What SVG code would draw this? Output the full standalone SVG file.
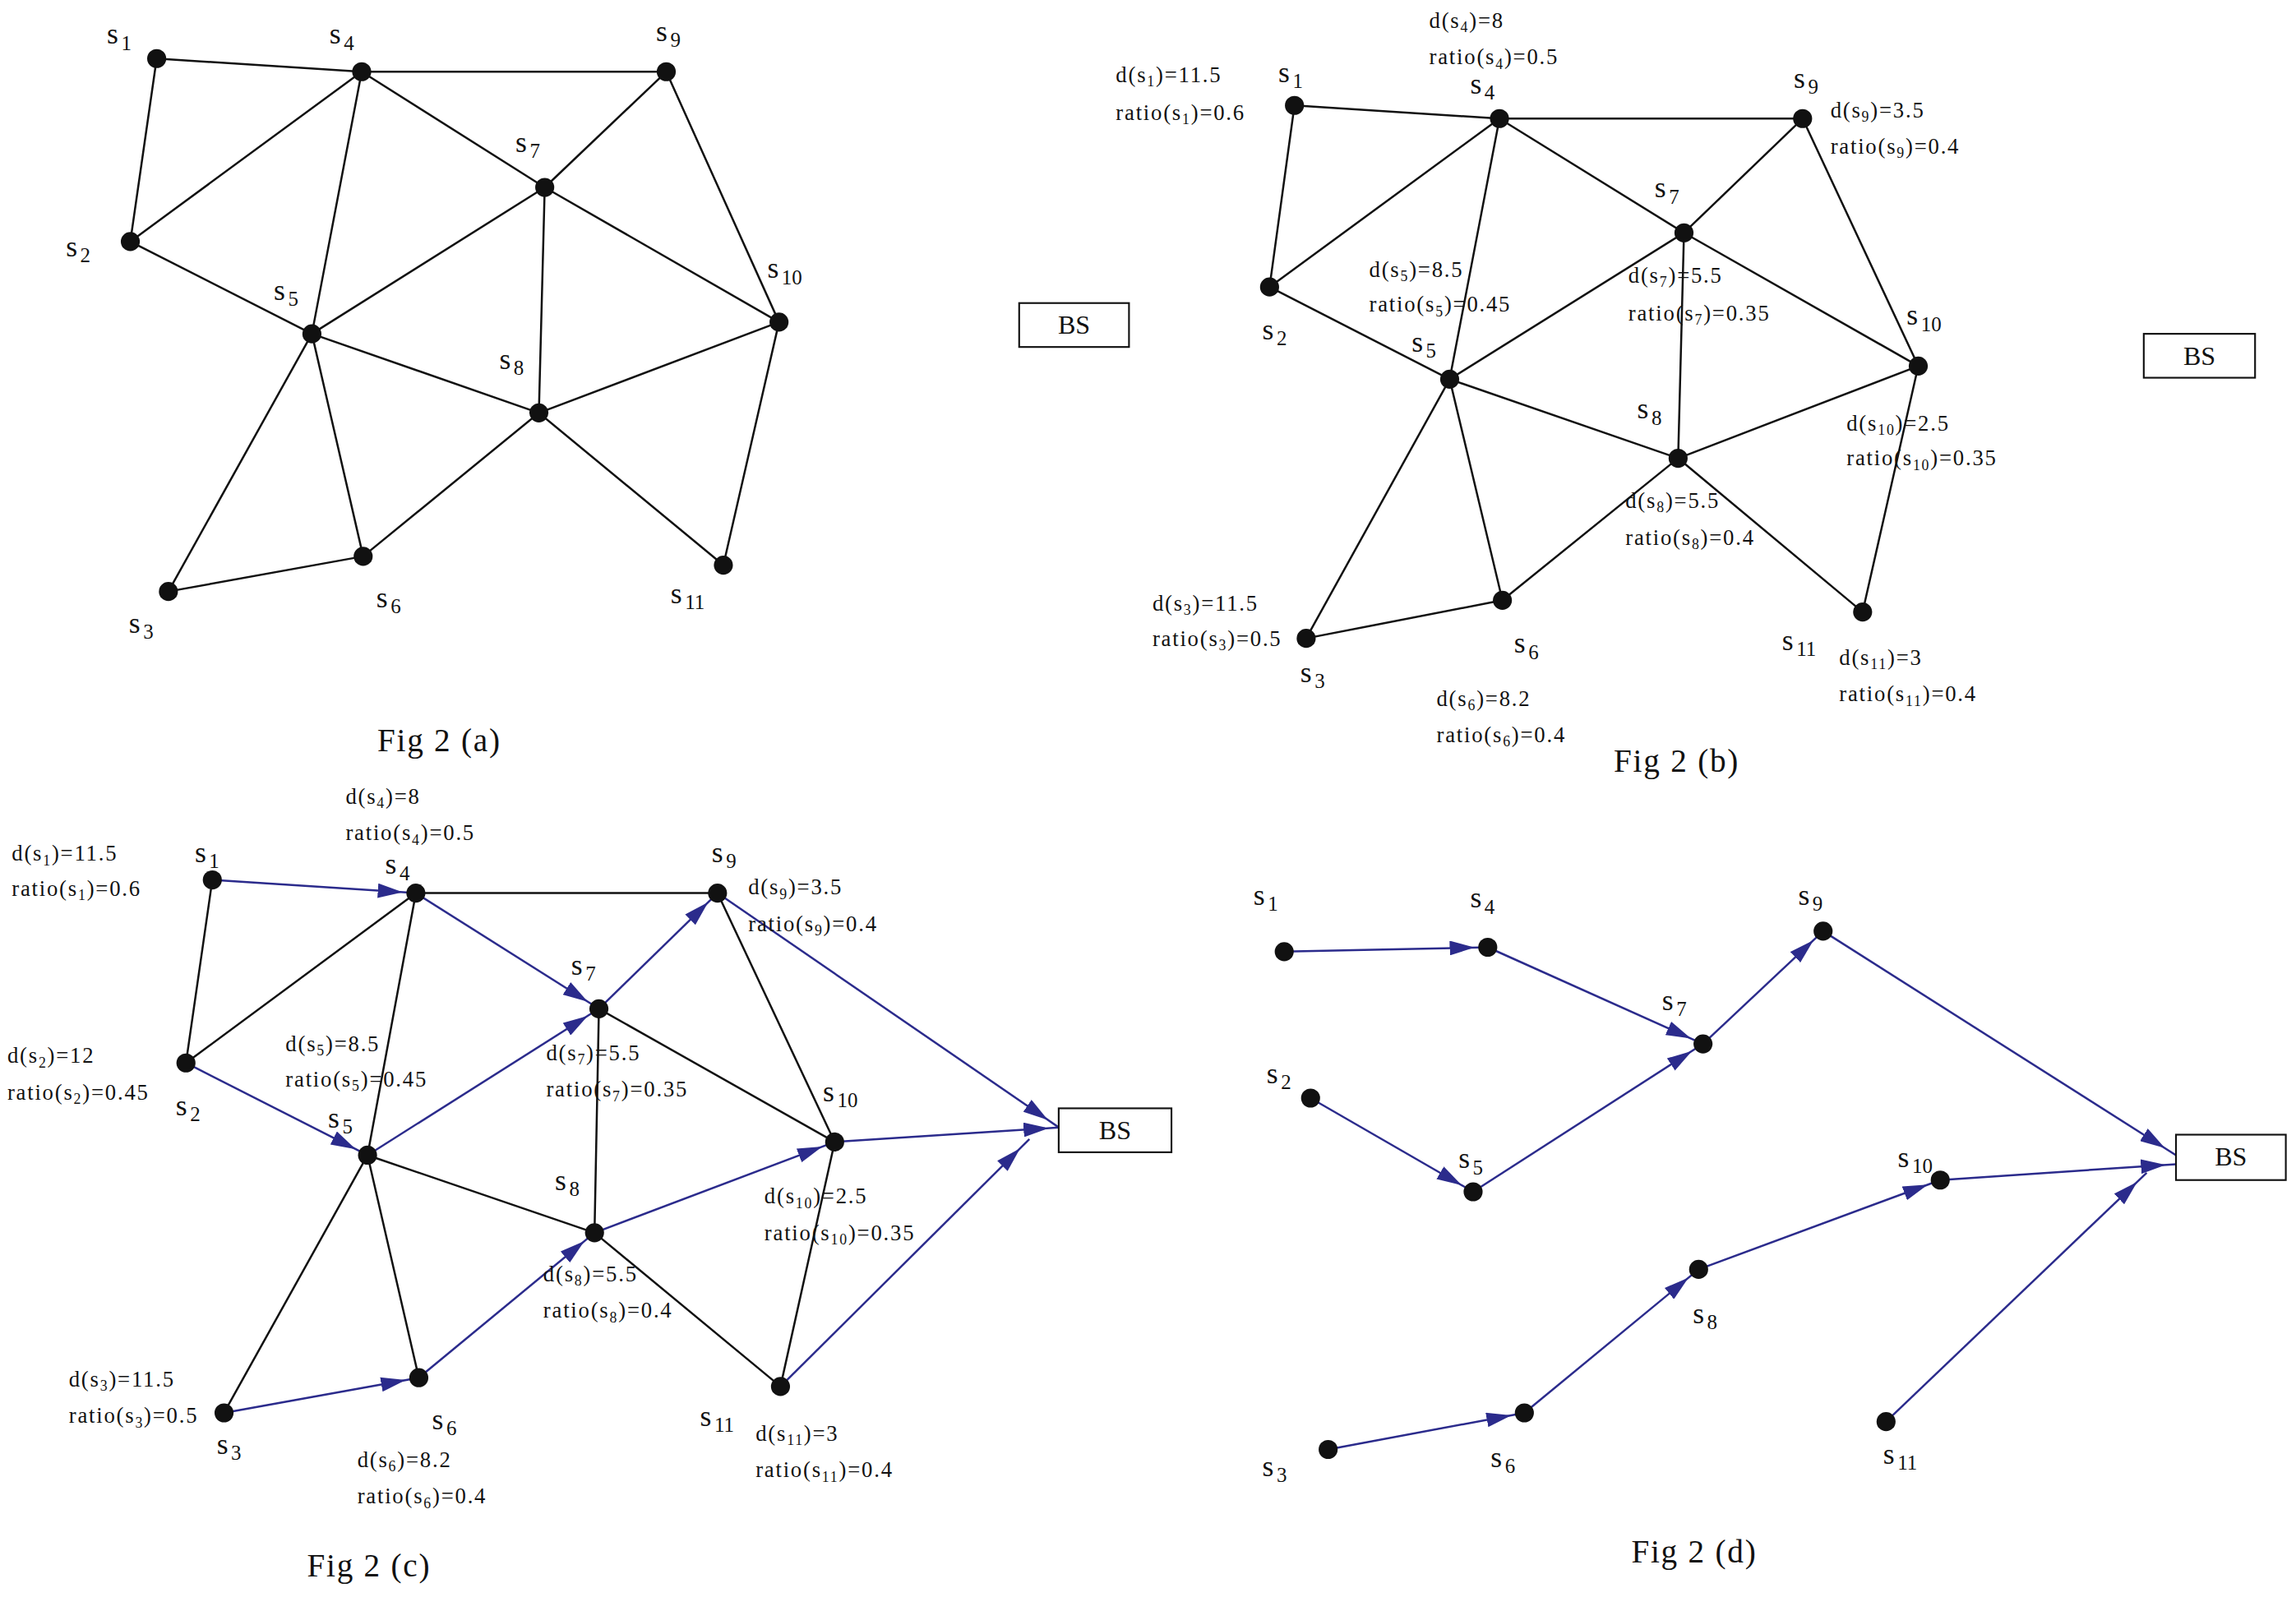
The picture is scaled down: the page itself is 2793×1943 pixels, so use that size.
<svg xmlns="http://www.w3.org/2000/svg" width="2793" height="1943" viewBox="0 0 2793 1943">
<style>
.e{stroke:#111;stroke-width:1.4;fill:none}
.a{stroke:#2b2b8c;stroke-width:1.4;fill:none;marker-end:url(#ah)}
.n{fill:#111}
.bs{fill:#fff;stroke:#111;stroke-width:1.2}
text{font-family:"Liberation Serif","DejaVu Serif",serif;fill:#111}
.l{font-size:20px}
.l tspan{font-size:14px}
.t{font-size:15px;letter-spacing:1px}
.t tspan:first-child{font-size:10px}
.c{font-size:22px;letter-spacing:1px}
.b{font-size:18px}
</style>
<defs>
<marker id="ah" markerUnits="userSpaceOnUse" viewBox="0 0 26 10" refX="26" refY="5" markerWidth="26" markerHeight="10" orient="auto">
<path d="M0,0 L17,5 L0,10 z" fill="#2b2b8c"/>
</marker>
</defs>
<rect width="2793" height="1943" fill="#fff"/>
<g transform="scale(1.7813)">
<!-- Fig a -->
<g id="figa-edges">
<path class="e" d="M107,40L247,49M107,40L89,165M89,165L247,49M89,165L213,228M247,49L213,228M247,49L455,49M247,49L372,128M455,49L372,128M455,49L532,220M372,128L213,228M372,128L368,282M372,128L532,220M213,228L368,282M213,228L115,404M213,228L248,380M368,282L532,220M368,282L248,380M368,282L494,386M532,220L494,386M115,404L248,380"/>
</g>
<g id="figa-nodes">
<circle class="n" cx="107" cy="40" r="6.5"/><circle class="n" cx="247" cy="49" r="6.5"/><circle class="n" cx="455" cy="49" r="6.5"/><circle class="n" cx="372" cy="128" r="6.5"/><circle class="n" cx="89" cy="165" r="6.5"/><circle class="n" cx="213" cy="228" r="6.5"/><circle class="n" cx="532" cy="220" r="6.5"/><circle class="n" cx="368" cy="282" r="6.5"/><circle class="n" cx="248" cy="380" r="6.5"/><circle class="n" cx="115" cy="404" r="6.5"/><circle class="n" cx="494" cy="386" r="6.5"/>
<text class="l" x="73" y="30">s<tspan dx="2" dy="4">1</tspan></text>
<text class="l" x="225" y="30">s<tspan dx="2" dy="4">4</tspan></text>
<text class="l" x="448" y="28">s<tspan dx="2" dy="4">9</tspan></text>
<text class="l" x="352" y="104">s<tspan dx="2" dy="4">7</tspan></text>
<text class="l" x="45" y="175">s<tspan dx="2" dy="4">2</tspan></text>
<text class="l" x="187" y="205">s<tspan dx="2" dy="4">5</tspan></text>
<text class="l" x="524" y="190">s<tspan dx="2" dy="4">10</tspan></text>
<text class="l" x="341" y="252">s<tspan dx="2" dy="4">8</tspan></text>
<text class="l" x="257" y="415">s<tspan dx="2" dy="4">6</tspan></text>
<text class="l" x="88" y="432">s<tspan dx="2" dy="4">3</tspan></text>
<text class="l" x="458" y="412">s<tspan dx="2" dy="4">11</tspan></text>
</g>
<g id="figa-bs"><rect class="bs" x="696" y="207" width="75" height="30"/><text class="b" x="733.5" y="228" text-anchor="middle">BS</text></g>
<text class="c" x="300" y="513" text-anchor="middle">Fig 2 (a)</text>

<!-- Fig b -->
<g id="figb-edges">
<path class="e" d="M884,72L1024,81M884,72L867,196M867,196L1024,81M867,196L990,259M1024,81L990,259M1024,81L1231,81M1024,81L1150,159M1231,81L1150,159M1231,81L1310,250M1150,159L990,259M1150,159L1146,313M1150,159L1310,250M990,259L1146,313M990,259L892,436M990,259L1026,410M1146,313L1310,250M1146,313L1026,410M1146,313L1272,418M1310,250L1272,418M892,436L1026,410"/>
</g>
<g id="figb-nodes">
<circle class="n" cx="884" cy="72" r="6.5"/><circle class="n" cx="1024" cy="81" r="6.5"/><circle class="n" cx="1231" cy="81" r="6.5"/><circle class="n" cx="1150" cy="159" r="6.5"/><circle class="n" cx="867" cy="196" r="6.5"/><circle class="n" cx="990" cy="259" r="6.5"/><circle class="n" cx="1310" cy="250" r="6.5"/><circle class="n" cx="1146" cy="313" r="6.5"/><circle class="n" cx="1026" cy="410" r="6.5"/><circle class="n" cx="892" cy="436" r="6.5"/><circle class="n" cx="1272" cy="418" r="6.5"/>
<text class="l" x="873" y="56">s<tspan dx="2" dy="4">1</tspan></text>
<text class="l" x="1004" y="64">s<tspan dx="2" dy="4">4</tspan></text>
<text class="l" x="1225" y="60">s<tspan dx="2" dy="4">9</tspan></text>
<text class="l" x="1130" y="135">s<tspan dx="2" dy="4">7</tspan></text>
<text class="l" x="862" y="232">s<tspan dx="2" dy="4">2</tspan></text>
<text class="l" x="964" y="240">s<tspan dx="2" dy="4">5</tspan></text>
<text class="l" x="1302" y="222">s<tspan dx="2" dy="4">10</tspan></text>
<text class="l" x="1118" y="286">s<tspan dx="2" dy="4">8</tspan></text>
<text class="l" x="1034" y="446">s<tspan dx="2" dy="4">6</tspan></text>
<text class="l" x="888" y="466">s<tspan dx="2" dy="4">3</tspan></text>
<text class="l" x="1217" y="444">s<tspan dx="2" dy="4">11</tspan></text>
<text class="t" x="976" y="19">d(s<tspan dy="3">4</tspan><tspan dy="-3">)=8</tspan></text>
<text class="t" x="976" y="44">ratio(s<tspan dy="3">4</tspan><tspan dy="-3">)=0.5</tspan></text>
<text class="t" x="762" y="56">d(s<tspan dy="3">1</tspan><tspan dy="-3">)=11.5</tspan></text>
<text class="t" x="762" y="82">ratio(s<tspan dy="3">1</tspan><tspan dy="-3">)=0.6</tspan></text>
<text class="t" x="1250" y="80">d(s<tspan dy="3">9</tspan><tspan dy="-3">)=3.5</tspan></text>
<text class="t" x="1250" y="105">ratio(s<tspan dy="3">9</tspan><tspan dy="-3">)=0.4</tspan></text>
<text class="t" x="935" y="189">d(s<tspan dy="3">5</tspan><tspan dy="-3">)=8.5</tspan></text>
<text class="t" x="935" y="213">ratio(s<tspan dy="3">5</tspan><tspan dy="-3">)=0.45</tspan></text>
<text class="t" x="1112" y="193">d(s<tspan dy="3">7</tspan><tspan dy="-3">)=5.5</tspan></text>
<text class="t" x="1112" y="219">ratio(s<tspan dy="3">7</tspan><tspan dy="-3">)=0.35</tspan></text>
<text class="t" x="1261" y="294">d(s<tspan dy="3">10</tspan><tspan dy="-3">)=2.5</tspan></text>
<text class="t" x="1261" y="318">ratio(s<tspan dy="3">10</tspan><tspan dy="-3">)=0.35</tspan></text>
<text class="t" x="1110" y="347">d(s<tspan dy="3">8</tspan><tspan dy="-3">)=5.5</tspan></text>
<text class="t" x="1110" y="372">ratio(s<tspan dy="3">8</tspan><tspan dy="-3">)=0.4</tspan></text>
<text class="t" x="787" y="417">d(s<tspan dy="3">3</tspan><tspan dy="-3">)=11.5</tspan></text>
<text class="t" x="787" y="441">ratio(s<tspan dy="3">3</tspan><tspan dy="-3">)=0.5</tspan></text>
<text class="t" x="981" y="482">d(s<tspan dy="3">6</tspan><tspan dy="-3">)=8.2</tspan></text>
<text class="t" x="981" y="507">ratio(s<tspan dy="3">6</tspan><tspan dy="-3">)=0.4</tspan></text>
<text class="t" x="1256" y="454">d(s<tspan dy="3">11</tspan><tspan dy="-3">)=3</tspan></text>
<text class="t" x="1256" y="479">ratio(s<tspan dy="3">11</tspan><tspan dy="-3">)=0.4</tspan></text>
</g>
<g id="figb-bs"><rect class="bs" x="1464" y="228" width="76" height="30"/><text class="b" x="1502" y="249" text-anchor="middle">BS</text></g>
<text class="c" x="1145" y="527" text-anchor="middle">Fig 2 (b)</text>

<!-- Fig c -->
<g id="figc-edges">
<path class="e" d="M145,601L127,726M127,726L284,610M284,610L251,789M284,610L490,610M490,610L570,780M409,689L406,842M409,689L570,780M251,789L406,842M251,789L153,965M251,789L286,941M406,842L533,947M570,780L533,947"/>
<path class="a" d="M145,601L284,610"/>
<path class="a" d="M284,610L409,689"/>
<path class="a" d="M127,726L251,789"/>
<path class="a" d="M251,789L409,689"/>
<path class="a" d="M409,689L490,610"/>
<path class="a" d="M490,610L723,770"/>
<path class="a" d="M570,780L725,770"/>
<path class="a" d="M533,947L703,778"/>
<path class="a" d="M153,965L286,941"/>
<path class="a" d="M286,941L406,842"/>
<path class="a" d="M406,842L570,780"/>
</g>
<g id="figc-nodes">
<circle class="n" cx="145" cy="601" r="6.5"/><circle class="n" cx="284" cy="610" r="6.5"/><circle class="n" cx="490" cy="610" r="6.5"/><circle class="n" cx="409" cy="689" r="6.5"/><circle class="n" cx="127" cy="726" r="6.5"/><circle class="n" cx="251" cy="789" r="6.5"/><circle class="n" cx="570" cy="780" r="6.5"/><circle class="n" cx="406" cy="842" r="6.5"/><circle class="n" cx="286" cy="941" r="6.5"/><circle class="n" cx="153" cy="965" r="6.5"/><circle class="n" cx="533" cy="947" r="6.5"/>
<text class="l" x="133" y="589">s<tspan dx="2" dy="4">1</tspan></text>
<text class="l" x="263" y="597">s<tspan dx="2" dy="4">4</tspan></text>
<text class="l" x="486" y="589">s<tspan dx="2" dy="4">9</tspan></text>
<text class="l" x="390" y="666">s<tspan dx="2" dy="4">7</tspan></text>
<text class="l" x="120" y="762">s<tspan dx="2" dy="4">2</tspan></text>
<text class="l" x="224" y="770">s<tspan dx="2" dy="4">5</tspan></text>
<text class="l" x="562" y="752">s<tspan dx="2" dy="4">10</tspan></text>
<text class="l" x="379" y="813">s<tspan dx="2" dy="4">8</tspan></text>
<text class="l" x="295" y="976">s<tspan dx="2" dy="4">6</tspan></text>
<text class="l" x="148" y="993">s<tspan dx="2" dy="4">3</tspan></text>
<text class="l" x="478" y="974">s<tspan dx="2" dy="4">11</tspan></text>
<text class="t" x="236" y="549">d(s<tspan dy="3">4</tspan><tspan dy="-3">)=8</tspan></text>
<text class="t" x="236" y="574">ratio(s<tspan dy="3">4</tspan><tspan dy="-3">)=0.5</tspan></text>
<text class="t" x="8" y="588">d(s<tspan dy="3">1</tspan><tspan dy="-3">)=11.5</tspan></text>
<text class="t" x="8" y="612">ratio(s<tspan dy="3">1</tspan><tspan dy="-3">)=0.6</tspan></text>
<text class="t" x="511" y="611">d(s<tspan dy="3">9</tspan><tspan dy="-3">)=3.5</tspan></text>
<text class="t" x="511" y="636">ratio(s<tspan dy="3">9</tspan><tspan dy="-3">)=0.4</tspan></text>
<text class="t" x="5" y="726">d(s<tspan dy="3">2</tspan><tspan dy="-3">)=12</tspan></text>
<text class="t" x="5" y="751">ratio(s<tspan dy="3">2</tspan><tspan dy="-3">)=0.45</tspan></text>
<text class="t" x="195" y="718">d(s<tspan dy="3">5</tspan><tspan dy="-3">)=8.5</tspan></text>
<text class="t" x="195" y="742">ratio(s<tspan dy="3">5</tspan><tspan dy="-3">)=0.45</tspan></text>
<text class="t" x="373" y="724">d(s<tspan dy="3">7</tspan><tspan dy="-3">)=5.5</tspan></text>
<text class="t" x="373" y="749">ratio(s<tspan dy="3">7</tspan><tspan dy="-3">)=0.35</tspan></text>
<text class="t" x="522" y="822">d(s<tspan dy="3">10</tspan><tspan dy="-3">)=2.5</tspan></text>
<text class="t" x="522" y="847">ratio(s<tspan dy="3">10</tspan><tspan dy="-3">)=0.35</tspan></text>
<text class="t" x="371" y="875">d(s<tspan dy="3">8</tspan><tspan dy="-3">)=5.5</tspan></text>
<text class="t" x="371" y="900">ratio(s<tspan dy="3">8</tspan><tspan dy="-3">)=0.4</tspan></text>
<text class="t" x="47" y="947">d(s<tspan dy="3">3</tspan><tspan dy="-3">)=11.5</tspan></text>
<text class="t" x="47" y="972">ratio(s<tspan dy="3">3</tspan><tspan dy="-3">)=0.5</tspan></text>
<text class="t" x="244" y="1002">d(s<tspan dy="3">6</tspan><tspan dy="-3">)=8.2</tspan></text>
<text class="t" x="244" y="1027">ratio(s<tspan dy="3">6</tspan><tspan dy="-3">)=0.4</tspan></text>
<text class="t" x="516" y="984">d(s<tspan dy="3">11</tspan><tspan dy="-3">)=3</tspan></text>
<text class="t" x="516" y="1009">ratio(s<tspan dy="3">11</tspan><tspan dy="-3">)=0.4</tspan></text>
</g>
<g id="figc-bs"><rect class="bs" x="723" y="757" width="77" height="30"/><text class="b" x="761.5" y="778" text-anchor="middle">BS</text></g>
<text class="c" x="252" y="1077" text-anchor="middle">Fig 2 (c)</text>

<!-- Fig d -->
<g id="figd-edges">
<path class="a" d="M877,650L1016,647"/>
<path class="a" d="M1016,647L1163,713"/>
<path class="a" d="M895,750L1006,814"/>
<path class="a" d="M1006,814L1163,713"/>
<path class="a" d="M1163,713L1245,636"/>
<path class="a" d="M1245,636L1486,789"/>
<path class="a" d="M1325,806L1488,795"/>
<path class="a" d="M1288,971L1466,801"/>
<path class="a" d="M907,990L1041,965"/>
<path class="a" d="M1041,965L1160,867"/>
<path class="a" d="M1160,867L1325,806"/>
</g>
<g id="figd-nodes">
<circle class="n" cx="877" cy="650" r="6.5"/><circle class="n" cx="1016" cy="647" r="6.5"/><circle class="n" cx="1245" cy="636" r="6.5"/><circle class="n" cx="1163" cy="713" r="6.5"/><circle class="n" cx="895" cy="750" r="6.5"/><circle class="n" cx="1006" cy="814" r="6.5"/><circle class="n" cx="1325" cy="806" r="6.5"/><circle class="n" cx="1160" cy="867" r="6.5"/><circle class="n" cx="1041" cy="965" r="6.5"/><circle class="n" cx="907" cy="990" r="6.5"/><circle class="n" cx="1288" cy="971" r="6.5"/>
<text class="l" x="856" y="618">s<tspan dx="2" dy="4">1</tspan></text>
<text class="l" x="1004" y="620">s<tspan dx="2" dy="4">4</tspan></text>
<text class="l" x="1228" y="618">s<tspan dx="2" dy="4">9</tspan></text>
<text class="l" x="1135" y="690">s<tspan dx="2" dy="4">7</tspan></text>
<text class="l" x="865" y="740">s<tspan dx="2" dy="4">2</tspan></text>
<text class="l" x="996" y="798">s<tspan dx="2" dy="4">5</tspan></text>
<text class="l" x="1296" y="797">s<tspan dx="2" dy="4">10</tspan></text>
<text class="l" x="1156" y="904">s<tspan dx="2" dy="4">8</tspan></text>
<text class="l" x="1018" y="1002">s<tspan dx="2" dy="4">6</tspan></text>
<text class="l" x="862" y="1008">s<tspan dx="2" dy="4">3</tspan></text>
<text class="l" x="1286" y="1000">s<tspan dx="2" dy="4">11</tspan></text>
</g>
<g id="figd-bs"><rect class="bs" x="1486" y="775" width="75" height="31"/><text class="b" x="1523.5" y="796" text-anchor="middle">BS</text></g>
<text class="c" x="1157" y="1067" text-anchor="middle">Fig 2 (d)</text>
</g>
</svg>
